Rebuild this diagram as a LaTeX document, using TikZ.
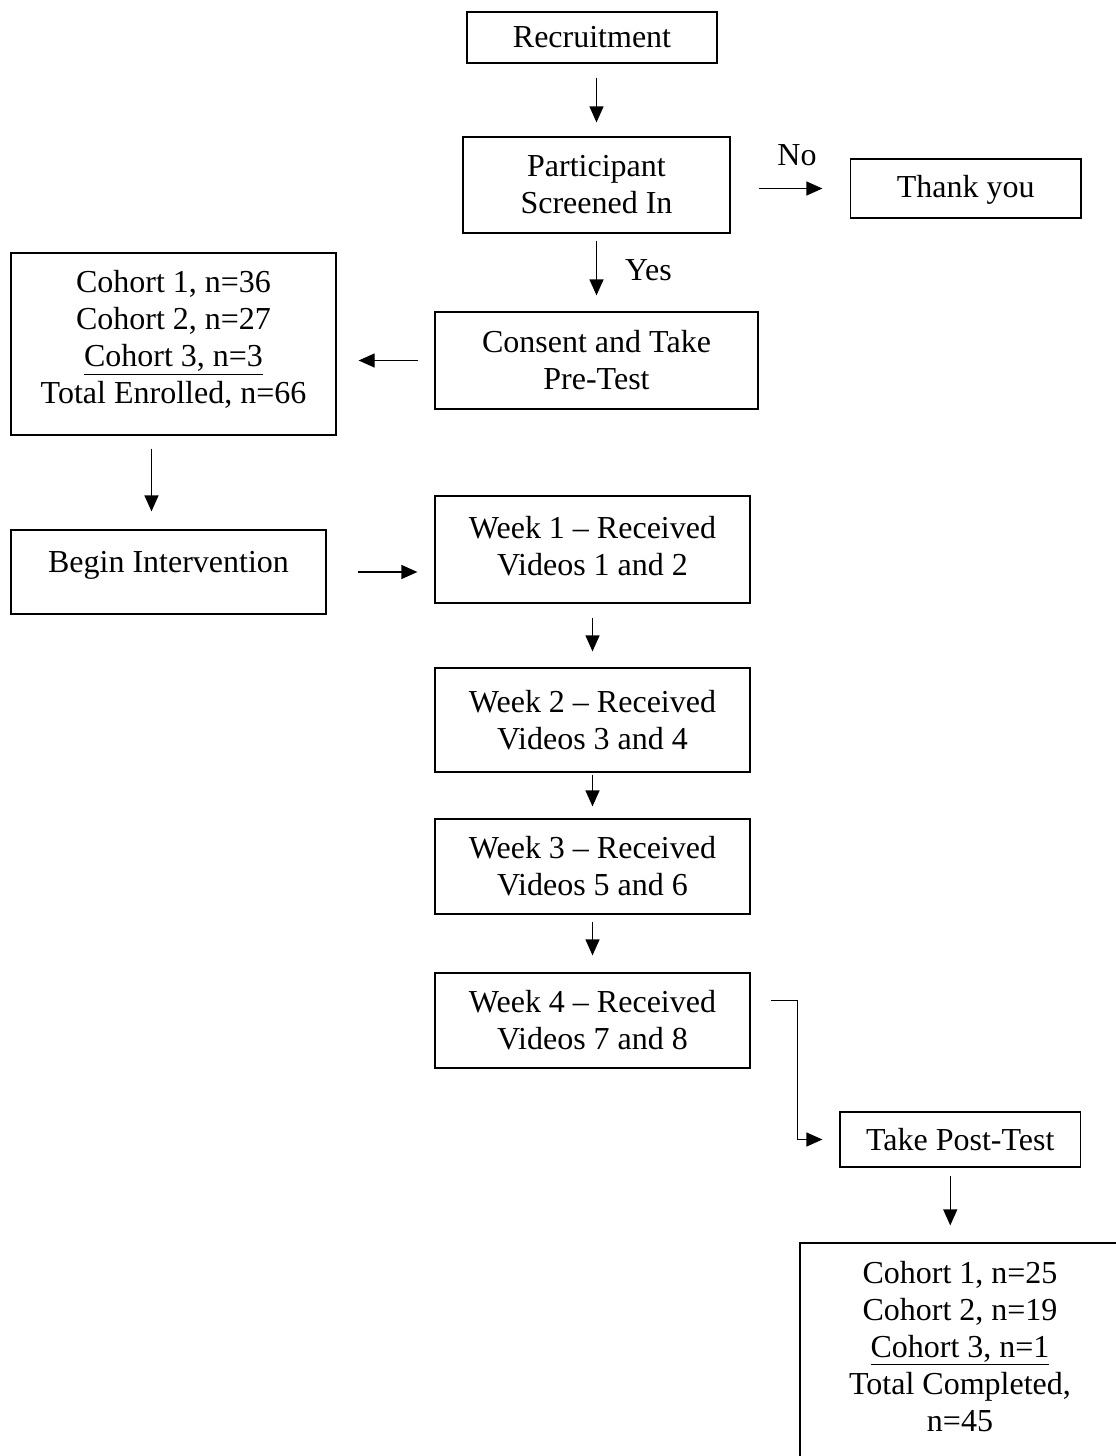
\documentclass[tikz,border=0pt]{standalone}
\usepackage{fontspec}
\setmainfont{Liberation Serif}
\usetikzlibrary{arrows.meta}

\tikzset{
  box/.style={rectangle, draw, inner sep=0pt, align=center},
}

\begin{document}
\begin{tikzpicture}[x=0.5pt, y=-0.5pt, line width=0.6pt,
  font=\fontsize{16}{18.5}\selectfont, >={Triangle[length=8pt,width=7pt]}]

\useasboundingbox (0,0) rectangle (1115,1456);

%%%%%% Screening %%%%%%%

\node (recruit) at (592,37.5) [box, minimum width=125pt, minimum height=25.5pt] {Recruitment};
\node (screen) at (596.5,185) [box, minimum width=133.5pt, minimum height=48pt] {Participant\\Screened In};
\node (thanks) at (965.75,188.5) [box, minimum width=115.25pt, minimum height=29.5pt, text depth=2pt] {Thank you};
\node (consent) at (596.5,360.5) [box, minimum width=161.5pt, minimum height=48.5pt] {Consent and Take\\Pre-Test};
\node (enrolled) at (173.5,344) [box, minimum width=162.5pt, minimum height=91pt, text depth=7pt] {Cohort 1, n=36\\Cohort 2, n=27\\\underline{Cohort 3, n=3}\\Total Enrolled, n=66};
\node (begin) at (168.5,572) [box, minimum width=157.5pt, minimum height=42pt, text depth=10pt] {Begin Intervention};

\node (no) at (797,155) {No};
\node (yes) at (648.5,270) {Yes};

\draw[->, shorten <=7pt, shorten >=7pt] (recruit.south -| screen.north) -- (screen.north);
\draw[->, shorten <=14pt, shorten >=13.75pt] (thanks.west -| screen.east) -- (thanks.west);
\draw[->, shorten <=3.5pt, shorten >=8pt] (screen.south) -- (consent.north);
\draw[->, shorten <=8pt, shorten >=11pt] (consent.west) -- (consent.west -| enrolled.east);
\draw[->, shorten <=6.5pt, shorten >=9pt] ([xshift=-11pt]enrolled.south) -- ([xshift=-11pt]enrolled.south |- begin.north);

%%%%%% Weeks %%%%%%%

\node (week1) at (592.5,549.5) [box, minimum width=157.5pt, minimum height=53.5pt, text depth=4pt] {Week 1 – Received\\Videos 1 and 2};
\node (week2) at (592.5,720) [box, minimum width=157.5pt, minimum height=52pt] {Week 2 – Received\\Videos 3 and 4};
\node (week3) at (592.5,866.5) [box, minimum width=157.5pt, minimum height=47.5pt] {Week 3 – Received\\Videos 5 and 6};
\node (week4) at (592.5,1020.5) [box, minimum width=157.5pt, minimum height=47.5pt] {Week 4 – Received\\Videos 7 and 8};

\draw[->, shorten <=15.5pt, shorten >=8.5pt] (begin.east) -- (begin.east -| week1.west);
\draw[->, shorten <=7pt, shorten >=8pt] (week1.south) -- (week2.north);
\draw[->, shorten <=1pt, shorten >=6pt] (week2.south) -- (week3.north);
\draw[->, shorten <=3.5pt, shorten >=8.5pt] (week3.south) -- (week4.north);

%%%%%% Post-Test %%%%%%%

\node (posttest) at (960.25,1139.5) [box, minimum width=120.25pt, minimum height=27.5pt] {Take Post-Test};
\node (completed) at (960,1356.5) [box, minimum width=160pt, minimum height=113.5pt, text depth=10.5pt] {Cohort 1, n=25\\Cohort 2, n=19\\\underline{Cohort 3, n=1}\\Total Completed,\\n=45};

\draw[->, shorten <=10pt, shorten >=8.5pt] ([yshift=10pt]week4.east) -- ++(47,0) |- (posttest.west);
\draw[->, shorten <=4pt, shorten >=8.5pt] ([xshift=-5pt]posttest.south) -- ([xshift=-5pt]posttest.south |- completed.north);

\end{tikzpicture}
\end{document}
